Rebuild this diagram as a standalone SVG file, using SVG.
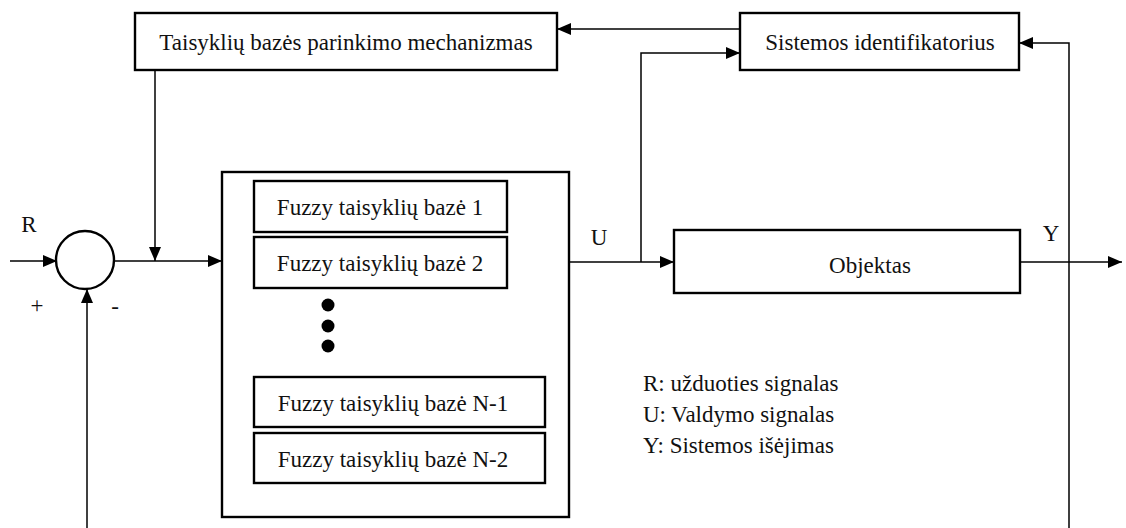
<svg xmlns="http://www.w3.org/2000/svg" width="1126" height="528" viewBox="0 0 1126 528">
  <defs>
    <marker id="arrow" viewBox="0 0 14 12" refX="14" refY="6" markerWidth="14" markerHeight="12" markerUnits="userSpaceOnUse" orient="auto">
      <path d="M0,0 L14,6 L0,12 Z" fill="#000"/>
    </marker>
  </defs>
  <style>
    .box { fill: #fff; stroke: #000; stroke-width: 2.4; }
    .wire { fill: none; stroke: #000; stroke-width: 1.5; }
    .lbl { font-family: "Liberation Serif", "Times New Roman", serif; font-size: 23px; fill: #111; }
    .mid { text-anchor: middle; dominant-baseline: central; }
  </style>
  <rect width="1126" height="528" fill="#fff"/>

  <!-- connectors -->
  <g id="connectors">
    <!-- identifier -> rule-base selector -->
    <path class="wire" d="M740,29 L557,29" marker-end="url(#arrow)"/>
    <!-- selector -> controller input -->
    <path class="wire" d="M155,70 L155,261" marker-end="url(#arrow)"/>
    <!-- reference input -->
    <path class="wire" d="M10,261 L57,261" marker-end="url(#arrow)"/>
    <!-- error -> fuzzy controller -->
    <path class="wire" d="M114,261 L222,261" marker-end="url(#arrow)"/>
    <!-- feedback into summer -->
    <path class="wire" d="M87,528 L87,289" marker-end="url(#arrow)"/>
    <!-- control signal U -> plant -->
    <path class="wire" d="M569,262 L674,262" marker-end="url(#arrow)"/>
    <!-- U branch -> identifier -->
    <path class="wire" d="M641,262 L641,53 L740,53" marker-end="url(#arrow)"/>
    <!-- plant output Y -->
    <path class="wire" d="M1020,262 L1122,262" marker-end="url(#arrow)"/>
    <!-- Y -> identifier -->
    <path class="wire" d="M1069,528 L1069,43 L1019,43" marker-end="url(#arrow)"/>
  </g>

  <g id="selector">
    <rect class="box" x="135" y="13" width="422" height="57"/>
    <text class="lbl mid" x="346" y="42">Taisyklių bazės parinkimo mechanizmas</text>
  </g>

  <g id="identifier">
    <rect class="box" x="740" y="13" width="279" height="57"/>
    <text class="lbl mid" x="880" y="42">Sistemos identifikatorius</text>
  </g>

  <g id="summer">
    <circle cx="85" cy="260" r="29" fill="#fff" stroke="#000" stroke-width="2.4"/>
    <text class="lbl mid" x="29" y="224">R</text>
    <text class="lbl mid" x="37" y="305">+</text>
    <text class="lbl mid" x="115" y="306">-</text>
  </g>

  <g id="controller">
    <rect class="box" x="222" y="172" width="347" height="345"/>
    <g id="base-1">
      <rect class="box" x="254" y="181" width="253" height="51"/>
      <text class="lbl mid" x="380" y="207">Fuzzy taisyklių bazė 1</text>
    </g>
    <g id="base-2">
      <rect class="box" x="254" y="237" width="253" height="51"/>
      <text class="lbl mid" x="380" y="263">Fuzzy taisyklių bazė 2</text>
    </g>
    <g id="ellipsis">
      <circle cx="328" cy="305" r="6.5" fill="#000"/>
      <circle cx="328" cy="326" r="6.5" fill="#000"/>
      <circle cx="328" cy="346" r="6.5" fill="#000"/>
    </g>
    <g id="base-n1">
      <rect class="box" x="254" y="377" width="291" height="50"/>
      <text class="lbl mid" x="393" y="403">Fuzzy taisyklių bazė N-1</text>
    </g>
    <g id="base-n2">
      <rect class="box" x="254" y="433" width="291" height="50"/>
      <text class="lbl mid" x="393" y="459">Fuzzy taisyklių bazė N-2</text>
    </g>
  </g>

  <g id="plant">
    <rect class="box" x="674" y="230" width="346" height="63"/>
    <text class="lbl mid" x="870" y="265">Objektas</text>
  </g>

  <g id="signal-labels">
    <text class="lbl mid" x="599" y="237">U</text>
    <text class="lbl mid" x="1051" y="233">Y</text>
  </g>

  <g id="legend" class="lbl">
    <text x="643" y="391">R: užduoties signalas</text>
    <text x="643" y="422">U: Valdymo signalas</text>
    <text x="643" y="453">Y: Sistemos išėjimas</text>
  </g>
</svg>
